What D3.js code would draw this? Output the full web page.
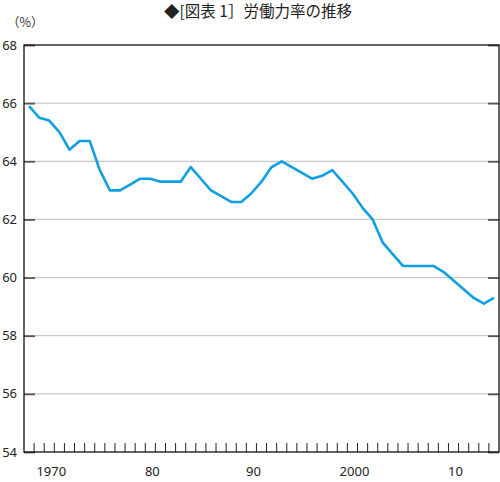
<!DOCTYPE html>
<meta charset="utf-8">
<body style="margin:0;background:#fff">
<script src="https://d3js.org/d3.v7.min.js"></script>
<div id="chart"></div>
<script>

// years on the category axis
var years = [1967, 1968, 1969, 1970, 1971, 1972, 1973, 1974, 1975, 1976,
             1977, 1978, 1979, 1980, 1981, 1982, 1983, 1984, 1985, 1986,
             1987, 1988, 1989, 1990, 1991, 1992, 1993, 1994, 1995, 1996,
             1997, 1998, 1999, 2000, 2001, 2002, 2003, 2004, 2005, 2006,
             2007, 2008, 2009, 2010, 2011, 2012, 2013];

// labour force participation rate (%)
var rate = [65.9, 65.5, 65.4, 65.0, 64.4, 64.7, 64.7, 63.7, 63.0, 63.0,
            63.2, 63.4, 63.4, 63.3, 63.3, 63.3, 63.8, 63.4, 63.0, 62.8,
            62.6, 62.6, 62.9, 63.3, 63.8, 64.0, 63.8, 63.6, 63.4, 63.5,
            63.7, 63.3, 62.9, 62.4, 62.0, 61.2, 60.8, 60.4, 60.4, 60.4,
            60.4, 60.2, 59.9, 59.6, 59.3, 59.1, 59.3];

var yTicks = [54, 56, 58, 60, 62, 64, 66, 68];
var xLabelYears = [1970, 1980, 1990, 2000, 2010];
var xLabelText = ["1970", "80", "90", "2000", "10"];

var W = 500, H = 482;
var margin = {top: 45, right: 1, bottom: 30, left: 24};
var width = W - margin.left - margin.right,
    height = H - margin.top - margin.bottom;

var x = d3.scaleBand()
          .domain(years)
          .range([0, width])
          .padding(0);

var y = d3.scaleLinear()
          .domain([54, 68])
          .range([height, 0]);

var svg = d3.select("#chart")
  .append("svg")
    .attr("width", W)
    .attr("height", H)
    .style("font-family", "'Noto Sans', 'Noto Sans CJK JP', sans-serif");

// title
svg.append("text")
    .attr("x", 258)
    .attr("y", 17)
    .attr("text-anchor", "middle")
    .style("font-family", "'Noto Sans CJK JP', sans-serif")
    .style("font-size", "15.5px")
    .style("fill", "#222")
    .text("◆[図表 1］労働力率の推移");

// unit
svg.append("text")
    .attr("x", 7)
    .attr("y", 27)
    .style("font-family", "'Noto Sans CJK JP', sans-serif")
    .style("font-size", "12.5px")
    .style("fill", "#333")
    .text("（%）");

var g = svg.append("g")
    .attr("transform", "translate(" + margin.left + "," + margin.top + ")");

// gridlines
g.selectAll(".grid")
  .data(yTicks.filter(function(d){ return d != 54 && d != 68; }))
  .enter().append("line")
    .attr("class", "grid")
    .attr("x1", 0)
    .attr("x2", width)
    .attr("y1", function(d){ return y(d); })
    .attr("y2", function(d){ return y(d); })
    .style("stroke", "#c8c8c8")
    .style("stroke-width", 1.2);

// inner ticks on left and right
g.append("g")
    .call(d3.axisRight(y).tickValues(yTicks).tickSize(11).tickFormat(""))
    .call(function(a){ a.select(".domain").remove(); })
    .selectAll("line").style("stroke", "#555").style("stroke-width", 1.8);

g.append("g")
    .attr("transform", "translate(" + width + ",0)")
    .call(d3.axisLeft(y).tickValues(yTicks).tickSize(11).tickFormat(""))
    .call(function(a){ a.select(".domain").remove(); })
    .selectAll("line").style("stroke", "#555").style("stroke-width", 1.8);

// y labels
g.selectAll(".ylab")
  .data(yTicks)
  .enter().append("text")
    .attr("class", "ylab")
    .attr("x", -7)
    .attr("y", function(d){ return y(d); })
    .attr("dy", "0.35em")
    .attr("text-anchor", "end")
    .style("font-size", "13px")
    .style("fill", "#222")
    .text(function(d){ return d; });

// year ticks on bottom, between categories
var bounds = years.slice(1);
g.selectAll(".xtick")
  .data(bounds)
  .enter().append("line")
    .attr("class", "xtick")
    .attr("x1", function(d){ return x(d); })
    .attr("x2", function(d){ return x(d); })
    .attr("y1", height)
    .attr("y2", height - 9)
    .style("stroke", "#222")
    .style("stroke-width", 1);

// x labels
g.selectAll(".xlab")
  .data(xLabelYears)
  .enter().append("text")
    .attr("class", "xlab")
    .attr("x", function(d){ return x(d) - x.bandwidth() * 0.3; })
    .attr("y", height + 24)
    .attr("text-anchor", "middle")
    .style("font-size", "13px")
    .style("fill", "#222")
    .text(function(d, i){ return xLabelText[i]; });

// frame
g.append("rect")
    .attr("x", 0)
    .attr("y", 0)
    .attr("width", width)
    .attr("height", height)
    .style("fill", "none")
    .style("stroke", "#111")
    .style("stroke-width", 1.3);

// the line
var line = d3.line()
    .x(function(d, i){ return x(years[i]) + x.bandwidth() / 2; })
    .y(function(d){ return y(d); });

g.append("path")
    .datum(rate)
    .attr("d", line)
    .style("fill", "none")
    .style("stroke", "#119fe3")
    .style("stroke-width", 2.6)
    .style("stroke-linejoin", "round");

</script>
</body>
